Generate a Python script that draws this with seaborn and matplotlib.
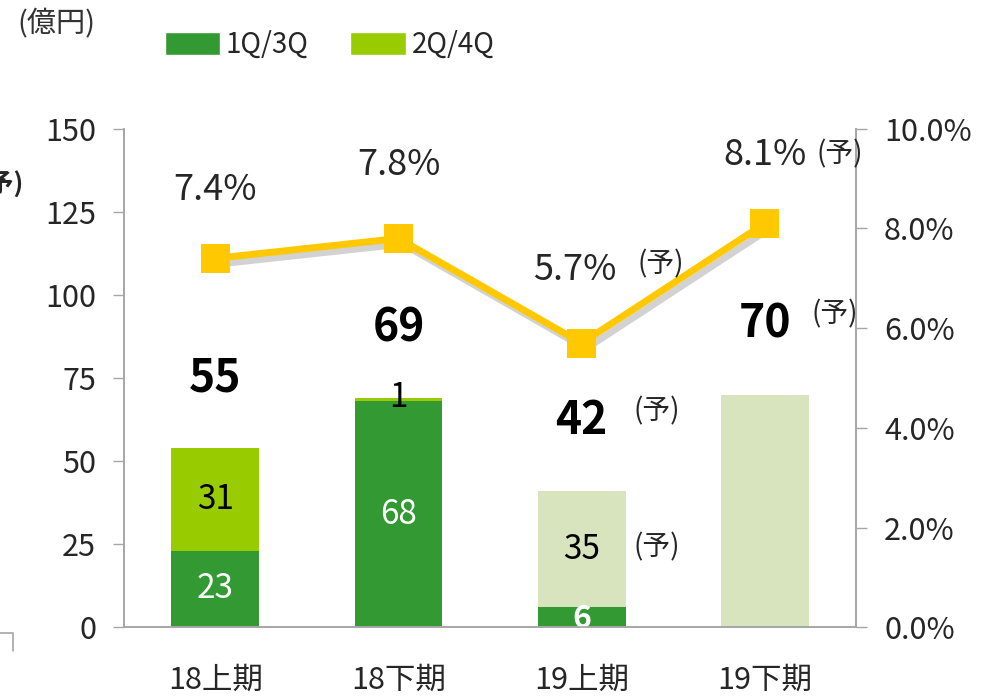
import numpy as np
import pandas as pd
import seaborn as sns
import matplotlib.pyplot as plt
import matplotlib.patheffects as pe
from matplotlib.patches import Patch
from matplotlib.lines import Line2D

# ── data ──────────────────────────────────────────────
periods = ["18上期", "18下期", "19上期", "19下期"]
q13 = [23, 68, 6, 0]          # 1Q/3Q
q24 = [31, 1, 35, 70]         # 2Q/4Q
totals = ["55", "69", "42", "70"]
margin = [7.4, 7.8, 5.7, 8.1]  # %
forecast = [False, False, True, True]
q13_labels = ["23", "68", "6", ""]
q24_labels = ["31", "1", "35", ""]

DARK = "#339933"
LIME = "#99CC00"
PALE = "#D7E4BD"
GOLD = "#FFC800"
GRID = "#A6A6A6"

sns.set_theme(style="white")
plt.rcParams["font.family"] = ["Noto Sans CJK JP", "DejaVu Sans"]

fig = plt.figure(figsize=(9.91, 7.0), dpi=100)
ax = fig.add_axes([0.125, 0.104, 0.739, 0.712])

df = pd.DataFrame({"period": periods, "q13": q13, "q24": q24})
df["stack"] = df["q13"] + df["q24"]
c13 = [DARK for f in forecast]
c24 = [PALE if f else LIME for f in forecast]

# stacked: full height in 2Q/4Q colour, then 1Q/3Q drawn over it
sns.barplot(data=df, x="period", y="stack", hue="period", palette=c24,
            legend=False, width=0.48, ax=ax, saturation=1, linewidth=0)
sns.barplot(data=df, x="period", y="q13", hue="period", palette=c13,
            legend=False, width=0.48, ax=ax, saturation=1, linewidth=0)

ax.set_xlim(-0.5, 3.5)
ax.set_ylim(0, 150)
ax.set_yticks(np.arange(0, 151, 25))
ax.set_xlabel("")
ax.set_ylabel("")
ax.tick_params(axis="y", labelsize=22, direction="out", length=8, color=GRID,
               width=1, pad=12)
ax.tick_params(axis="x", labelsize=22, length=0, pad=27)
ax.set_xticks(np.arange(0.5, 3.6, 1), minor=True)
ax.tick_params(axis="x", which="minor", direction="out", length=8, color=GRID)
ax.spines["top"].set_visible(False)
for s in ["left", "right", "bottom"]:
    ax.spines[s].set_color(GRID)
    ax.spines[s].set_linewidth(1.2)

# labels inside bars
for i in range(4):
    if q13_labels[i]:
        if q13[i] < 10:
            ax.text(i, 2.6, q13_labels[i], ha="center", va="center",
                    fontsize=23, color="white", fontweight="bold")
        else:
            ax.text(i, q13[i] / 2, q13_labels[i], ha="center", va="center",
                    fontsize=24, color="white")
    if q24_labels[i]:
        yy = q13[i] + q24[i] / 2 if q24[i] > 5 else q13[i] + q24[i]
        ax.text(i, yy, q24_labels[i], ha="center", va="center",
                fontsize=24, color="black")

# totals
tot_y = [75, 90, 62, 91]
for i in range(4):
    ax.text(i, tot_y[i], totals[i], ha="center", va="center",
            fontsize=32, fontweight="bold", color="black")
ax.text(2.41, 65, "(予)", ha="center", va="center", fontsize=20)
ax.text(3.38, 94, "(予)", ha="center", va="center", fontsize=20)
ax.text(2.41, 24, "(予)", ha="center", va="center", fontsize=20)

# margin line on right axis
ax2 = ax.twinx()
sns.lineplot(x=np.arange(4), y=margin, ax=ax2, color=GOLD, linewidth=5,
             marker="s", markersize=21, markeredgewidth=0,
             path_effects=[pe.SimpleLineShadow(offset=(3, -4), shadow_color="#808080",
                                               alpha=0.35),
                           pe.Normal()])
ax2.set_ylim(0, 10)
ax2.set_yticks(np.arange(0, 10.1, 2))
ax2.set_yticklabels([f"{v:.1f}%" for v in np.arange(0, 10.1, 2)])
ax2.tick_params(axis="y", labelsize=22, direction="out", length=8, color=GRID,
                width=1, pad=12)
ax2.spines["top"].set_visible(False)
for s in ["left", "right", "bottom"]:
    ax2.spines[s].set_color(GRID)
    ax2.spines[s].set_linewidth(1.2)
ax2.set_xlim(-0.5, 3.5)

pct_pos = [(0, 8.78), (1, 9.28), (1.96, 7.17), (3.0, 9.48)]
for (x, y), m in zip(pct_pos, margin):
    ax2.text(x, y, f"{m:.1f}%", ha="center", va="center", fontsize=26)
ax2.text(2.43, 7.27, "(予)", ha="center", va="center", fontsize=20)
ax2.text(3.41, 9.48, "(予)", ha="center", va="center", fontsize=20)

# unit + legend
fig.text(0.018, 0.965, "(億円)", ha="left", va="center", fontsize=21, color="#333333")
handles = [Patch(facecolor=DARK, label="1Q/3Q"), Patch(facecolor=LIME, label="2Q/4Q")]
fig.legend(handles=handles, loc="center left", bbox_to_anchor=(0.141, 0.936),
           ncol=2, frameon=False, fontsize=20, handlelength=2.0, handleheight=0.9,
           columnspacing=1.5, handletextpad=0.2)

# cropped pieces at the left edge
fig.text(-0.022, 0.736, "(予)", ha="left", va="center", fontsize=19, fontweight="bold")
fig.add_artist(Line2D([0, 0.013, 0.013], [0.096, 0.096, 0.07], transform=fig.transFigure,
                      color=GRID, linewidth=1.2))

fig.savefig("out.png", dpi=100)
